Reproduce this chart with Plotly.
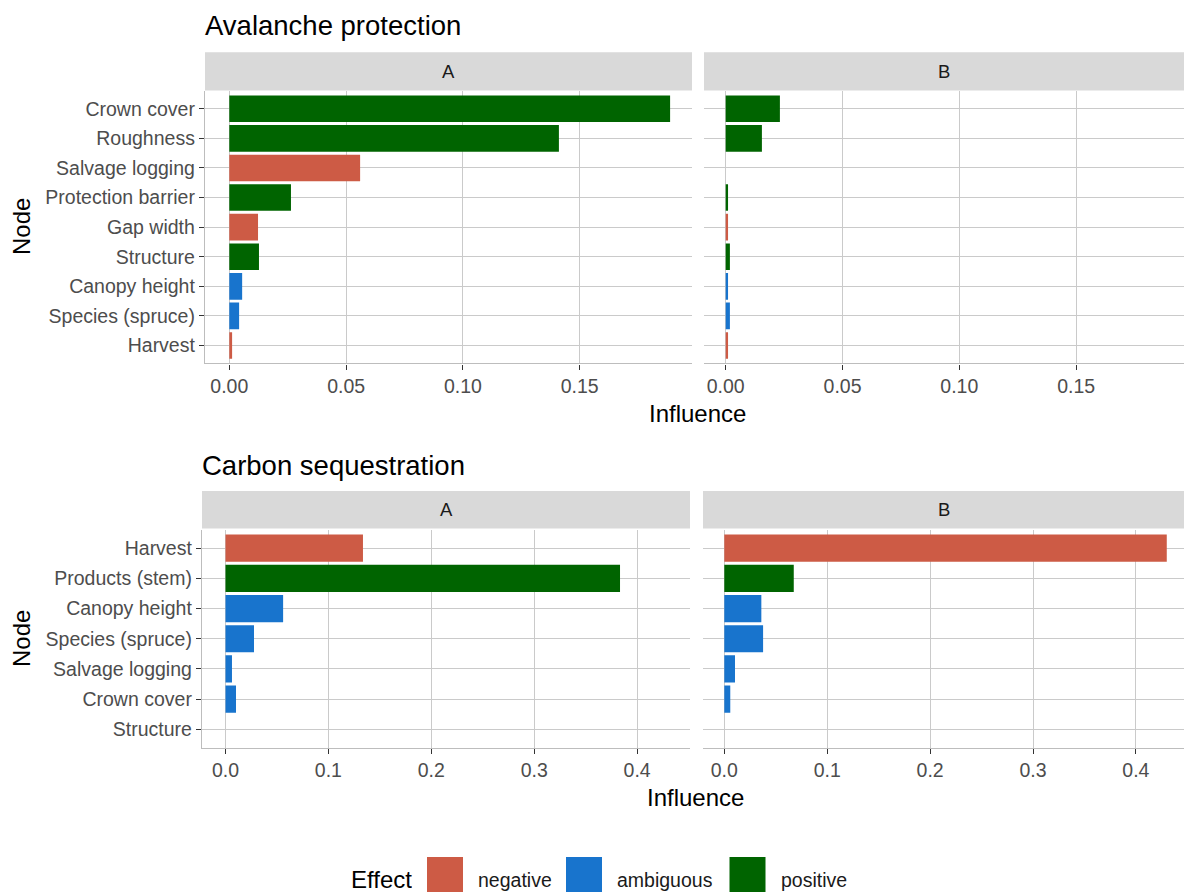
import plotly.graph_objects as go

# ---------------- data ----------------
av_nodes = ["Crown cover", "Roughness", "Salvage logging", "Protection barrier",
            "Gap width", "Structure", "Canopy height", "Species (spruce)", "Harvest"]
av_effect = ["positive", "positive", "negative", "positive", "negative",
             "positive", "ambiguous", "ambiguous", "negative"]
av_A = [0.1887, 0.1411, 0.0560, 0.0264, 0.0123, 0.0127, 0.0055, 0.0042, 0.0012]
av_B = [0.0232, 0.0155, 0.0, 0.0010, 0.0010, 0.0018, 0.0010, 0.0018, 0.0010]

cs_nodes = ["Harvest", "Products (stem)", "Canopy height", "Species (spruce)",
            "Salvage logging", "Crown cover", "Structure"]
cs_effect = ["negative", "positive", "ambiguous", "ambiguous",
             "ambiguous", "ambiguous", "positive"]
cs_A = [0.1336, 0.3834, 0.0560, 0.0277, 0.0063, 0.0102, 0.0]
cs_B = [0.4300, 0.0675, 0.0360, 0.0377, 0.0104, 0.0058, 0.0]

effect_levels = ["negative", "ambiguous", "positive"]
effect_colors = {"negative": "#CD5B45", "ambiguous": "#1874CD", "positive": "#006400"}

av_ticks = [0.0, 0.05, 0.10, 0.15]
cs_ticks = [0.0, 0.1, 0.2, 0.3, 0.4]

# ---------------- layout helpers ----------------
W, H = 1184, 892
FONT = "Liberation Sans, Arial, sans-serif"


def px(x):
    return x / W


def py(y):
    return 1 - y / H


fig = go.Figure()

panels = [
    (av_A, av_nodes, av_effect, "x", "y"),
    (av_B, av_nodes, av_effect, "x2", "y2"),
    (cs_A, cs_nodes, cs_effect, "x3", "y3"),
    (cs_B, cs_nodes, cs_effect, "x4", "y4"),
]
for vals, nodes, effs, xa, ya in panels:
    fig.add_trace(go.Bar(
        x=vals, y=nodes, orientation="h", xaxis=xa, yaxis=ya,
        width=0.9,
        marker=dict(color=[effect_colors[e] for e in effs], line=dict(width=0)),
        showlegend=False, hoverinfo="x+y",
    ))

GRID = "#cacaca"
LINE = "#bdbdbd"
TICKC = "#333333"
TICKFONT = dict(family=FONT, size=19.5, color="#4d4d4d")


def xaxis(domain, rng, ticks, fmt, anchor):
    return dict(domain=domain, range=rng, anchor=anchor,
                tickvals=ticks, ticktext=[fmt.format(t) for t in ticks],
                showgrid=True, gridcolor=GRID, gridwidth=1.4, zeroline=False,
                showline=True, linecolor=LINE, linewidth=1.4,
                ticks="outside", ticklen=5, tickwidth=1.4, tickcolor=TICKC,
                tickfont=TICKFONT, fixedrange=True)


def yaxis(domain, nodes, anchor, first):
    n = len(nodes)
    d = dict(domain=domain, anchor=anchor, type="category",
             categoryorder="array", categoryarray=nodes,
             range=[n - 0.4, -0.6],
             showgrid=True, gridcolor=GRID, gridwidth=1.4, zeroline=False,
             tickfont=TICKFONT, fixedrange=True)
    if first:
        d.update(showline=True, linecolor=LINE, linewidth=1.4,
                 ticks="outside", ticklen=5, tickwidth=1.4, tickcolor=TICKC,
                 showticklabels=True)
    else:
        d.update(showline=False, ticks="", showticklabels=False)
    return d


top_dom = [py(363.3), py(91)]
bot_dom = [py(747.5), py(530)]
ppu_top = 2336.0
ppu_bot = 1029.0

fig.update_layout(
    width=W, height=H,
    margin=dict(l=0, r=0, t=0, b=0),
    paper_bgcolor="white", plot_bgcolor="white",
    font=dict(family=FONT),
    xaxis=xaxis([px(205), px(692)],
                [-(229.3 - 205) / ppu_top, (692 - 229.3) / ppu_top],
                av_ticks, "{:.2f}", "y"),
    xaxis2=xaxis([px(704), px(1184)],
                 [-(725.7 - 704) / ppu_top, (1184 - 725.7) / ppu_top],
                 av_ticks, "{:.2f}", "y2"),
    xaxis3=xaxis([px(202), px(690)],
                 [-(225.5 - 202) / ppu_bot, (690 - 225.5) / ppu_bot],
                 cs_ticks, "{:.1f}", "y3"),
    xaxis4=xaxis([px(703), px(1184)],
                 [-(724.3 - 703) / ppu_bot, (1184 - 724.3) / ppu_bot],
                 cs_ticks, "{:.1f}", "y4"),
    yaxis=yaxis(top_dom, av_nodes, "x", True),
    yaxis2=yaxis(top_dom, av_nodes, "x2", False),
    yaxis3=yaxis(bot_dom, cs_nodes, "x3", True),
    yaxis4=yaxis(bot_dom, cs_nodes, "x4", False),
)

shapes = []
annotations = []

# strips
strips = [
    (205, 692, 52.3, 90.5, "A"),
    (704, 1184, 52.3, 90.5, "B"),
    (202, 690, 491, 528.5, "A"),
    (703, 1184, 491, 528.5, "B"),
]
for x0, x1, y0, y1, lab in strips:
    shapes.append(dict(type="rect", xref="paper", yref="paper",
                       x0=px(x0), x1=px(x1), y0=py(y1), y1=py(y0),
                       fillcolor="#d9d9d9", line=dict(width=0), layer="below"))
    annotations.append(dict(xref="paper", yref="paper", x=px((x0 + x1) / 2),
                            y=py((y0 + y1) / 2), text=lab, showarrow=False,
                            xanchor="center", yanchor="middle",
                            font=dict(family=FONT, size=18.5, color="#1a1a1a")))

# titles
for text, x, y in [("Avalanche protection", 205, 25), ("Carbon sequestration", 202, 465)]:
    annotations.append(dict(xref="paper", yref="paper", x=px(x - 2), y=py(y),
                            text=text, showarrow=False, xanchor="left",
                            yanchor="middle",
                            font=dict(family=FONT, size=27.5, color="black")))

# axis titles
for x, y in [(697, 413), (695, 797)]:
    annotations.append(dict(xref="paper", yref="paper", x=px(x), y=py(y),
                            text="Influence", showarrow=False, xanchor="center",
                            yanchor="middle",
                            font=dict(family=FONT, size=24, color="black")))
for y in [227, 639]:
    annotations.append(dict(xref="paper", yref="paper", x=px(21), y=py(y),
                            text="Node", showarrow=False, textangle=-90,
                            xanchor="center", yanchor="middle",
                            font=dict(family=FONT, size=24, color="black")))

# legend (drawn manually)
annotations.append(dict(xref="paper", yref="paper", x=px(349), y=py(879),
                        text="Effect", showarrow=False, xanchor="left",
                        yanchor="middle", height=26, valign="middle",
                        font=dict(family=FONT, size=24, color="black")))
key_x = {"negative": 427, "ambiguous": 566, "positive": 729.5}
for lev in effect_levels:
    x0 = key_x[lev]
    shapes.append(dict(type="rect", xref="paper", yref="paper",
                       x0=px(x0), x1=px(x0 + 36), y0=py(892), y1=py(857),
                       fillcolor=effect_colors[lev], line=dict(width=0)))
    annotations.append(dict(xref="paper", yref="paper", x=px(x0 + 49), y=py(880),
                            text=lev, showarrow=False, xanchor="left",
                            yanchor="middle", height=22, valign="middle",
                            font=dict(family=FONT, size=19.5, color="#1a1a1a")))

fig.update_layout(shapes=shapes, annotations=annotations)

fig.write_html(
    "out.html",
    config={"displayModeBar": False},
    post_script="document.body.style.margin='0';document.body.style.padding='0';",
)
